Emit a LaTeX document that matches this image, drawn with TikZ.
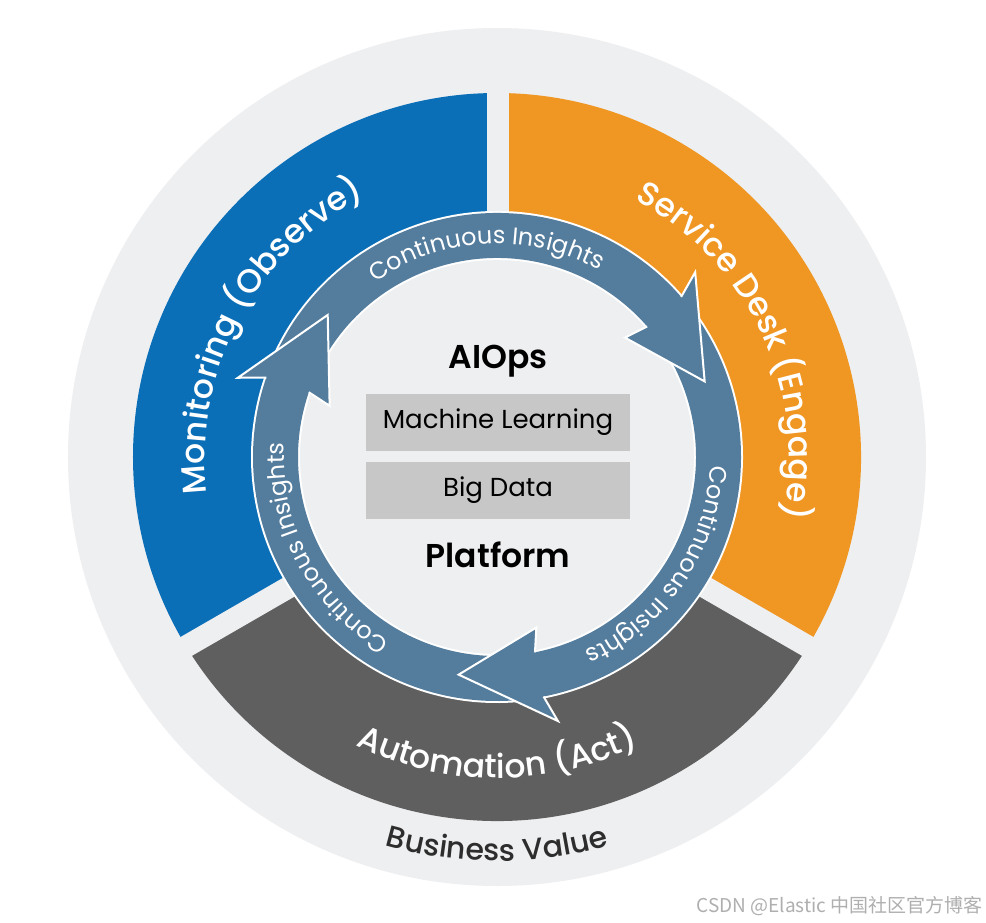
\documentclass[tikz,border=0pt]{standalone}
\usepackage{fontspec}
\setmainfont{Poppins}[BoldFont={Poppins SemiBold}]
\newfontfamily\mediumfont{Poppins Medium}
\newfontfamily\cjkfont{Noto Sans CJK SC}
\usepackage{xcolor}
\usetikzlibrary{positioning, decorations.text}

\definecolor{bglight}{RGB}{238,239,241}
\definecolor{monblue}{RGB}{11,111,184}
\definecolor{deskorange}{RGB}{240,150,35}
\definecolor{actgray}{RGB}{95,95,95}
\definecolor{ringblue}{RGB}{84,124,157}
\definecolor{boxgray}{RGB}{200,199,200}
\definecolor{valuegray}{RGB}{45,45,45}
\definecolor{markgray}{RGB}{175,175,175}

\begin{document}
\begin{tikzpicture}[
    x=0.5pt, y=0.5pt,
    layerbox/.style={rectangle, fill=boxgray, minimum width=132pt, minimum height=28.5pt, inner sep=0pt, font=\fontsize{13}{15}\selectfont},
    mainlabel/.style={inner sep=0pt, font=\bfseries\fontsize{16.5}{19}\selectfont},
    gapstrip/.style={fill=bglight},
    ringedge/.style={white, line width=24.5pt},
    ringbody/.style={ringblue, line width=22.5pt},
    ringhead/.style={fill=ringblue, draw=white, line width=1pt, line join=miter},
    ringlabel/.style={decorate, decoration={text along path, text align=center,
        text={|\color{white}\fontsize{12}{14}\selectfont|#1}}},
    sectorlabel/.style={decorate, decoration={text along path, text align=center,
        text={|\color{white}\mediumfont\fontsize{16.5}{20}\selectfont|#1}}},
    valuelabel/.style={decorate, decoration={text along path, text align=center,
        text={|\color{valuegray}\mediumfont\fontsize{15}{18}\selectfont|#1}}}
]

% Canvas
\useasboundingbox (-497,-465) rectangle (489,457);
\fill[white] (-497,-465) rectangle (489,457);
\fill[bglight] (0,0) circle[radius=429];

% Sectors
\fill[monblue] (0,0) -- (90:364) arc[start angle=90, end angle=210, radius=364] -- cycle;
\fill[deskorange] (0,0) -- (-30:364) arc[start angle=-30, end angle=90, radius=364] -- cycle;
\fill[actgray] (0,0) -- (210:364) arc[start angle=210, end angle=330, radius=364] -- cycle;

% Gaps between sectors
\fill[gapstrip] (-10,0) -- (12,0) -- (12,370) -- (-10,370) -- cycle;
\fill[gapstrip, rotate around={120:(0,-10)}] (-11,-10) -- (11,-10) -- (11,370) -- (-11,370) -- cycle;
\fill[gapstrip, rotate around={240:(0,-10)}] (-11,-10) -- (11,-10) -- (11,370) -- (-11,370) -- cycle;
\fill[bglight] (0,0) circle[radius=200];

% Insight ring: shafts
\draw[ringedge] (155:221.5) arc[start angle=155, end angle=39, radius=221.5];
\draw[ringbody] (155:221.5) arc[start angle=155, end angle=39, radius=221.5];
\draw[ringedge] (35:221.5) arc[start angle=35, end angle=-81, radius=221.5];
\draw[ringbody] (35:221.5) arc[start angle=35, end angle=-81, radius=221.5];
\draw[ringedge] (275:221.5) arc[start angle=275, end angle=159, radius=221.5];
\draw[ringbody] (275:221.5) arc[start angle=275, end angle=159, radius=221.5];

% Insight ring: heads
\filldraw[ringhead] (41:244) -- (43:271) -- (20:221) -- (43:175) -- (41:199);
\filldraw[ringhead] (161:244) -- (163:271) -- (140:221) -- (163:175) -- (161:199);
\filldraw[ringhead] (281:244) -- (283:271) -- (260:221) -- (283:175) -- (281:199);

% Ring labels
\path[ringlabel={Continuous Insights}] (163:213) arc[start angle=163, end angle=23, radius=213];
\path[ringlabel={Continuous Insights}] (36:213) arc[start angle=36, end angle=-104, radius=213];
\path[ringlabel={Continuous Insights}] (278:213) arc[start angle=278, end angle=138, radius=213];

% Sector labels
\path[sectorlabel={Monitoring (Observe)}] (232:292) arc[start angle=232, end angle=72, radius=292];
\path[sectorlabel={Service Desk (Engage)}] (105:292) arc[start angle=105, end angle=-55, radius=292];
\path[sectorlabel={Automation (Act)}] (200:321) arc[start angle=200, end angle=340, radius=321];
\path[valuelabel={Business Value}] (210:404) arc[start angle=210, end angle=330, radius=404];

% Platform core
\node[layerbox] (ml) at (1,34.5) {Machine Learning};
\node[layerbox, below=5pt of ml] (bigdata) {Big Data};
\node[mainlabel, above=8pt of ml] (aiops) {AIOps};
\node[mainlabel, below=11pt of bigdata] (platform) {Platform};

% Watermark
\node[anchor=east, inner sep=0pt, text=markgray, font=\cjkfont\fontsize{9.5}{11}\selectfont] (mark) at (486,-449) {CSDN @Elastic 中国社区官方博客};

\end{tikzpicture}
\end{document}
